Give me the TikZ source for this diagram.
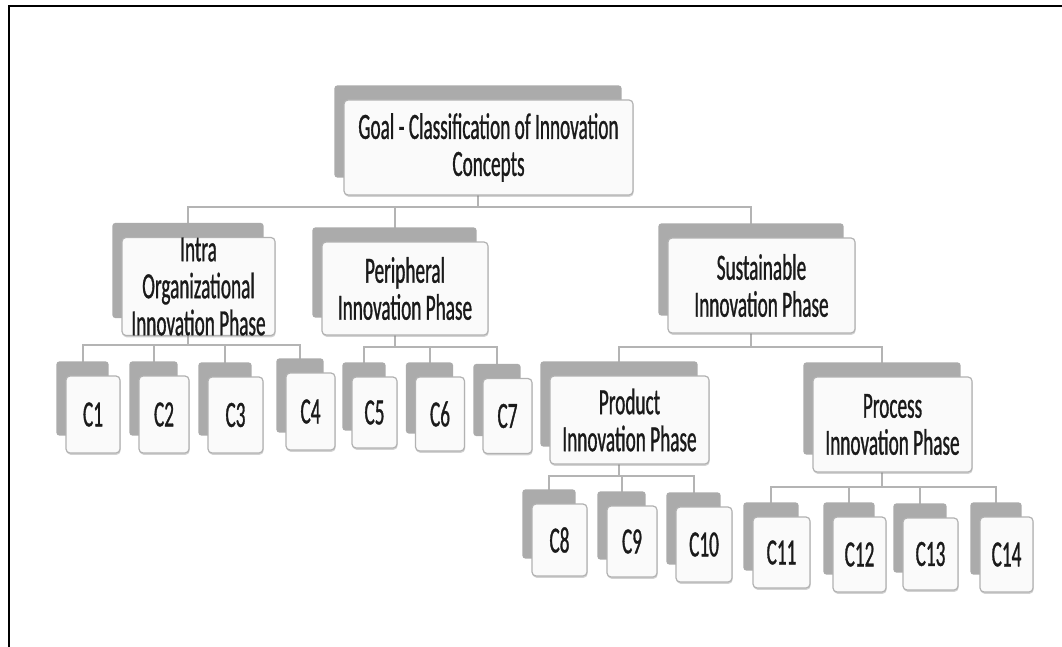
\documentclass[tikz,border=0pt]{standalone}
\usepackage{fontspec}
\setmainfont{Carlito}[FakeStretch=0.52,FakeBold=0.8]
\usetikzlibrary{backgrounds,calc,shadows}
\definecolor{backc}{HTML}{ABABAB}
\definecolor{linec}{HTML}{B4B4B4}
\definecolor{framec}{HTML}{B2B2B2}
\definecolor{fillc}{HTML}{FAFAFA}
\definecolor{txtc}{HTML}{1A1A1A}
\newcommand\mkbox[6]{%
  \node[box, minimum width=#4, minimum height=#5] (#1) at (#2,#3) {#6};
  \coordinate (#1-t) at ($(#1.north)+(-10.5,-14)$);
  \coordinate (#1-o) at ($(#1.south)+(-10.5,0)$);
}
\newcommand\mktree[5]{% parent, bar y, first, last, all children
  \draw[conn] (#1-o) -- (#1-o |- 0,#2);
  \draw[conn] (#3-t |- 0,#2) -- (#4-t |- 0,#2);
  \foreach \ch in {#5} {\draw[conn] (\ch-t |- 0,#2) -- (\ch-t);}
}
\begin{document}
\begin{tikzpicture}[x=1pt,y=-1pt,
  box/.style={draw=framec, line width=1.2pt, fill=fillc, rounded corners=4pt,
    inner sep=0pt, align=center, text=txtc, font=\fontsize{37}{37}\selectfont,
    drop shadow={shadow xshift=0.6pt, shadow yshift=-1.8pt, opacity=0.35, fill=gray}},
  conn/.style={draw=linec, line width=2pt, line cap=rect},
  backbox/.style={fill=backc, rounded corners=3pt},
]
\useasboundingbox (0,0) rectangle (1062,647);

\mkbox{goal}{488.5}{147.5}{289}{95}{Goal - Classification of Innovation\\Concepts}
\mkbox{intra}{198.5}{286.5}{153}{97}{Intra\\Organizational\\Innovation Phase}
\mkbox{peri}{405}{288.5}{166}{93}{Peripheral\\Innovation Phase}
\mkbox{sust}{761.5}{285.5}{187}{95}{Sustainable\\Innovation Phase}
\mkbox{prod}{629.5}{420}{159}{88}{Product\\Innovation Phase}
\mkbox{proc}{892.5}{424.5}{159}{95}{Process\\Innovation Phase}

\mkbox{c1}{93}{414.5}{54}{77}{C1}
\mkbox{c2}{164}{414.5}{50}{77}{C2}
\mkbox{c3}{235.5}{415}{55}{76}{C3}
\mkbox{c4}{310.5}{411.5}{49}{77}{C4}
\mkbox{c5}{374.5}{412.5}{45}{71}{C5}
\mkbox{c6}{440}{414}{49}{74}{C6}
\mkbox{c7}{507.5}{416}{49}{75}{C7}
\mkbox{c8}{559.5}{540}{55}{72}{C8}
\mkbox{c9}{632}{541.5}{50}{71}{C9}
\mkbox{c10}{704}{544.5}{56}{75}{C10}
\mkbox{c11}{781.5}{552.5}{57}{71}{C11}
\mkbox{c12}{859.5}{554.5}{53}{75}{C12}
\mkbox{c13}{930.5}{554}{55}{72}{C13}
\mkbox{c14}{1006.5}{554.5}{53}{75}{C14}

\draw[line width=1.6pt] (9,647) -- (9,6) -- (1062,6);

\begin{pgfonlayer}{background}
  \fill[white] (0,0) rectangle (1062,647);
  \mktree{goal}{207}{intra}{sust}{intra,peri,sust}
  \mktree{intra}{345}{c1}{c4}{c1,c2,c3,c4}
  \mktree{peri}{347}{c5}{c7}{c5,c6,c7}
  \mktree{sust}{347}{prod}{proc}{prod,proc}
  \mktree{prod}{476}{c8}{c10}{c8,c9,c10}
  \mktree{proc}{487}{c11}{c14}{c11,c12,c13,c14}
  \foreach \n in {goal,intra,peri,sust,prod,proc,c1,c2,c3,c4,c5,c6,c7,c8,c9,c10,c11,c12,c13,c14}
    {\fill[backbox] ($(\n.north west)+(-9,-14)$) rectangle ($(\n.south east)+(-12,-18)$);}
\end{pgfonlayer}
\end{tikzpicture}
\end{document}
